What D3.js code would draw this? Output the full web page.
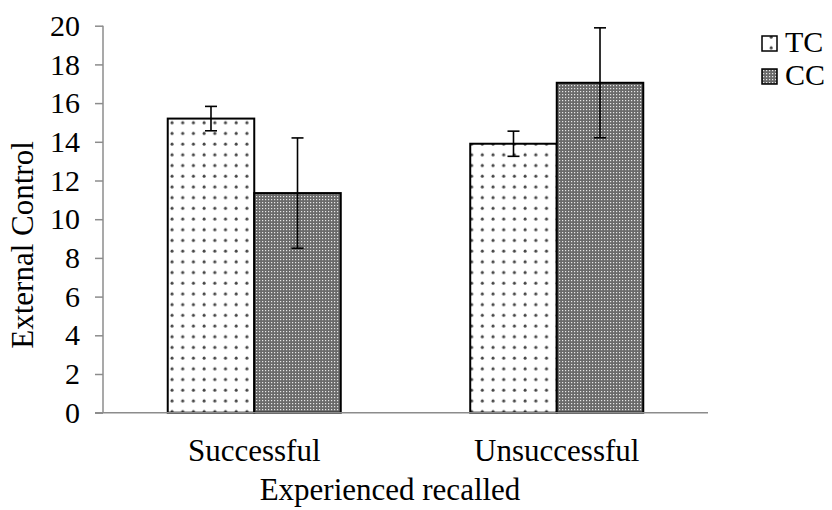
<!DOCTYPE html>
<html><head><meta charset="utf-8">
<script src="https://cdn.jsdelivr.net/npm/d3@7"></script>
<style>body{margin:0;background:#fff}svg{display:block}text{font-family:"Liberation Serif","Times New Roman",serif;fill:#000}</style>
</head><body><svg id="c" width="832" height="510"></svg>
<script>
const categories = ["Successful", "Unsuccessful"];
const seriesNames = ["TC", "CC"];
const tcValues = [15.2, 13.9];
const ccValues = [11.35, 17.05];
const tcErrors = [0.63, 0.65];
const ccErrors = [2.85, 2.84];
const yTicks = [0, 2, 4, 6, 8, 10, 12, 14, 16, 18, 20];
const xTitle = "Experienced recalled";
const yTitle = "External Control";

const svg = d3.select("#c");
const defs = svg.append("defs");
const pd = defs.append("pattern").attr("id","dots").attr("patternUnits","userSpaceOnUse")
  .attr("width",10.7).attr("height",10.7).attr("x",167).attr("y",0);
pd.append("rect").attr("width",10.7).attr("height",10.7).attr("fill","#fff");
pd.append("circle").attr("cx",5).attr("cy",5).attr("r",1.5).attr("fill","#444");
const pc = defs.append("pattern").attr("id","check").attr("patternUnits","userSpaceOnUse")
  .attr("width",3).attr("height",3);
pc.append("rect").attr("width",3).attr("height",3).attr("fill","#6a6a6a");
pc.append("rect").attr("x",1).attr("y",1).attr("width",1.2).attr("height",1.2).attr("fill","#e6e6e6");
const fills = {TC:"url(#dots)", CC:"url(#check)"};

const y = d3.scaleLinear().domain([0,20]).range([412.7,25.7]);
const x0 = d3.scaleBand().domain(categories).range([103,708]).paddingInner(0.428).paddingOuter(0.214);
const x1 = d3.scaleBand().domain(seriesNames).range([0,x0.bandwidth()]);

const data = categories.map((c,i)=>({cat:c, vals:[
  {s:"TC", v:tcValues[i], e:tcErrors[i]},
  {s:"CC", v:ccValues[i], e:ccErrors[i]}]}));

const FS = 30;
// bars
const g = svg.append("g");
data.forEach(d=>{
  d.vals.forEach(b=>{
    g.append("rect").attr("x",x0(d.cat)+x1(b.s)).attr("y",y(b.v))
     .attr("width",x1.bandwidth()).attr("height",y(0)-y(b.v))
     .attr("fill",fills[b.s]).attr("stroke","#000").attr("stroke-width",2);
  });
});
// axes
const yAxis = d3.axisLeft(y).tickValues(yTicks).tickSize(8).tickPadding(15).tickFormat(d3.format("d"));
const ya = svg.append("g").attr("transform","translate(103,0)").call(yAxis);
ya.select(".domain").attr("stroke","#8c8c8c").attr("stroke-width",1.5).attr("d","M0,25.7V412.7");
ya.selectAll(".tick line").attr("stroke","#8c8c8c").attr("stroke-width",1.5);
ya.selectAll(".tick text").attr("font-size",FS).attr("font-family","Liberation Serif").attr("fill","#000");
const xAxis = d3.axisBottom(x0).tickSize(0).tickPadding(26);
const xa = svg.append("g").attr("transform","translate(0,412.7)").call(xAxis);
xa.select(".domain").attr("stroke","#8c8c8c").attr("stroke-width",1.5).attr("d","M95,0H708");
xa.selectAll(".tick text").attr("font-size",31).attr("font-family","Liberation Serif").attr("fill","#000");
// error bars
data.forEach(d=>{
  d.vals.forEach(b=>{
    const cx = x0(d.cat)+x1(b.s)+x1.bandwidth()/2;
    const eg = svg.append("g").attr("stroke","#000").attr("stroke-width",1.6);
    eg.append("line").attr("x1",cx).attr("x2",cx).attr("y1",y(b.v+b.e)).attr("y2",y(b.v-b.e));
    eg.append("line").attr("x1",cx-6).attr("x2",cx+6).attr("y1",y(b.v+b.e)).attr("y2",y(b.v+b.e));
    eg.append("line").attr("x1",cx-6).attr("x2",cx+6).attr("y1",y(b.v-b.e)).attr("y2",y(b.v-b.e));
  });
});
// titles
svg.append("text").attr("x",390).attr("y",500).attr("text-anchor","middle").attr("font-size",31).text(xTitle);
svg.append("text").attr("transform","translate(33,245) rotate(-90)").attr("text-anchor","middle").attr("font-size",31).text(yTitle);
// legend
seriesNames.forEach((s,i)=>{
  const ly = 36 + i*33;
  svg.append("rect").attr("x",762).attr("y",ly).attr("width",15).attr("height",15)
    .attr("fill",fills[s]).attr("stroke","#000").attr("stroke-width",1.5);
  svg.append("text").attr("x",785).attr("y",ly+16).attr("font-size",30).text(s);
});
</script></body></html>
